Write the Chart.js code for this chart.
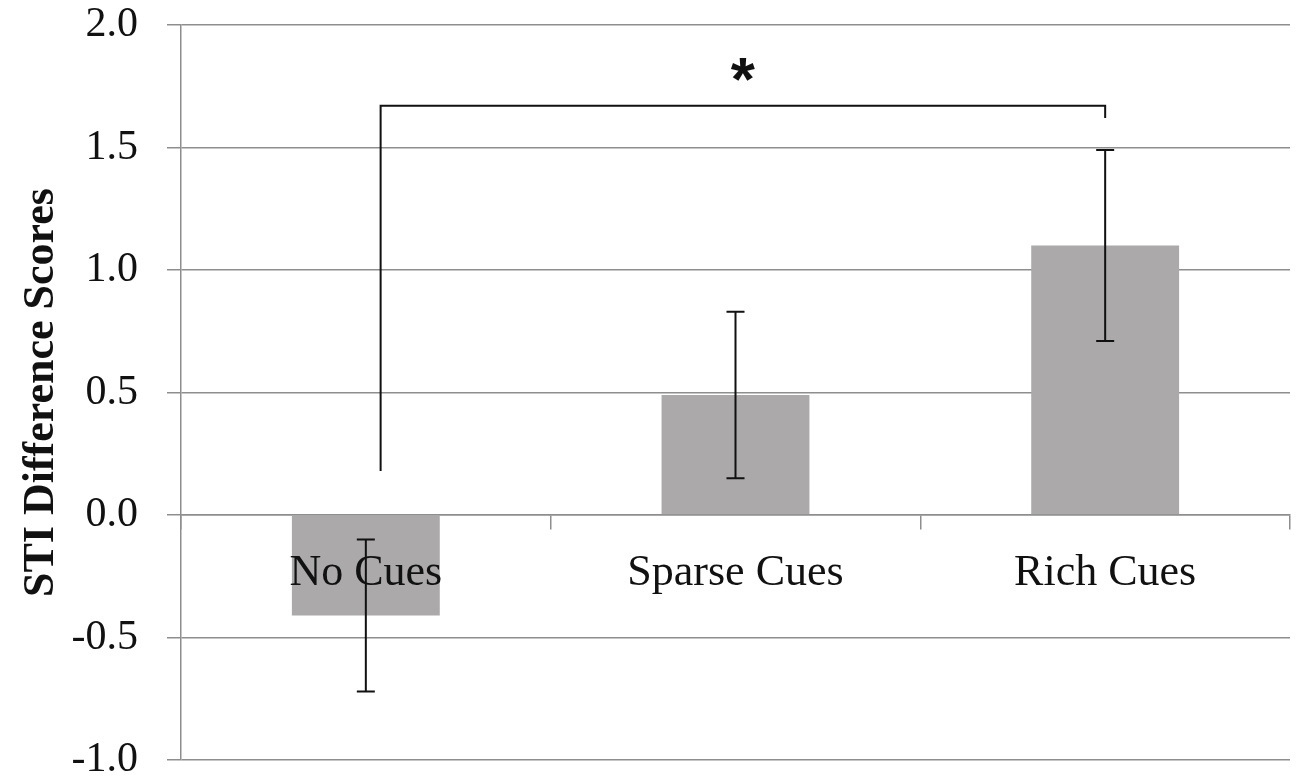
<!DOCTYPE html>
<html>
<head>
<meta charset="utf-8">
<script src="https://cdn.jsdelivr.net/npm/chart.js@4/dist/chart.umd.min.js"></script>
<style>
  html, body { margin: 0; padding: 0; background: #ffffff; }
  #wrap { width: 1300px; height: 783px; }
</style>
</head>
<body>
<div id="wrap"><canvas id="c" width="1300" height="783"></canvas></div>
<script>
// Conditions and mean STI difference scores
const categories = ['No Cues', 'Sparse Cues', 'Rich Cues'];
const means = [-0.41, 0.49, 1.10];
// Error bar ends (lower, upper)
const errLow = [-0.72, 0.15, 0.71];
const errHigh = [-0.10, 0.83, 1.49];
// Y axis ticks
const yTicks = [-1.0, -0.5, 0.0, 0.5, 1.0, 1.5, 2.0];

// Significance bracket: category positions of the legs, bar level, leg ends
const bracketX = [0.04, 2.0];
const bracketTop = 1.67;
const bracketLegEnds = [0.18, 1.62];
const sigLabel = '*';
const sigPos = [1.02, 1.82];

const GRID = '#8e8e8e';
const SERIF = '"Liberation Serif", "Times New Roman", serif';

const errorBars = {
  id: 'errorBars',
  afterDraw(chart) {
    const ctx = chart.ctx;
    const y = chart.scales.y;
    const meta = chart.getDatasetMeta(0);
    ctx.save();
    ctx.strokeStyle = '#111111';
    ctx.lineWidth = 2;
    meta.data.forEach((bar, i) => {
      const x = bar.x;
      const yl = y.getPixelForValue(errLow[i]);
      const yh = y.getPixelForValue(errHigh[i]);
      const cap = 9;
      ctx.beginPath();
      ctx.moveTo(x, yl); ctx.lineTo(x, yh);
      ctx.moveTo(x - cap, yl); ctx.lineTo(x + cap, yl);
      ctx.moveTo(x - cap, yh); ctx.lineTo(x + cap, yh);
      ctx.stroke();
    });
    ctx.restore();
  }
};

const significance = {
  id: 'significance',
  afterDraw(chart) {
    const ctx = chart.ctx;
    const xs = chart.scales.x, ys = chart.scales.y;
    const x0 = xs.getPixelForValue(bracketX[0]);
    const x1 = xs.getPixelForValue(bracketX[1]);
    const yt = ys.getPixelForValue(bracketTop);
    ctx.save();
    ctx.strokeStyle = '#111111';
    ctx.lineWidth = 2;
    ctx.lineJoin = 'miter';
    ctx.beginPath();
    ctx.moveTo(x0, ys.getPixelForValue(bracketLegEnds[0]));
    ctx.lineTo(x0, yt);
    ctx.lineTo(x1, yt);
    ctx.lineTo(x1, ys.getPixelForValue(bracketLegEnds[1]));
    ctx.stroke();

    ctx.fillStyle = '#111111';
    ctx.font = 'bold 62px "Liberation Sans", Arial, sans-serif';
    ctx.textAlign = 'center';
    ctx.textBaseline = 'alphabetic';
    const m = ctx.measureText(sigLabel);
    const cx = xs.getPixelForValue(sigPos[0]);
    const cy = ys.getPixelForValue(sigPos[1]);
    const off = (m.actualBoundingBoxAscent - m.actualBoundingBoxDescent) / 2;
    ctx.fillText(sigLabel, cx, cy + off);
    ctx.restore();
  }
};

new Chart(document.getElementById('c'), {
  type: 'bar',
  data: {
    labels: categories,
    datasets: [{
      data: means,
      backgroundColor: '#aba9a9',
      borderWidth: 0,
      categoryPercentage: 1.0,
      barPercentage: 0.4
    }]
  },
  options: {
    responsive: false,
    animation: false,
    devicePixelRatio: 1,
    layout: { padding: { top: 25, bottom: 23, left: 0, right: 10 } },
    plugins: {
      legend: { display: false },
      tooltip: { enabled: false }
    },
    scales: {
      x: {
        position: { y: 0 },
        offset: true,
        grid: {
          offset: true,
          drawOnChartArea: false,
          drawTicks: true,
          tickLength: 14,
          color: GRID,
          lineWidth: 1.5
        },
        border: { display: true, color: GRID, width: 1.5 },
        ticks: {
          z: 1,
          color: '#111111',
          padding: 18,
          maxRotation: 0,
          font: { family: SERIF, size: 44 }
        }
      },
      y: {
        min: -1,
        max: 2,
        afterBuildTicks(scale) {
          scale.ticks = yTicks.map(v => ({ value: v }));
        },
        afterFit(scale) {
          scale.width = 181;
          scale.paddingTop = 0;
          scale.paddingBottom = 0;
        },
        grid: {
          color: GRID,
          lineWidth: 1.5,
          drawTicks: true,
          tickLength: 14
        },
        border: { display: true, color: GRID, width: 1.5 },
        ticks: {
          color: '#111111',
          padding: 29,
          font: { family: SERIF, size: 42 },
          callback: v => Number(v).toFixed(1)
        },
        title: {
          display: true,
          text: 'STI Difference Scores',
          color: '#111111',
          padding: { top: 15, bottom: 0 },
          font: { family: SERIF, size: 44, weight: 'bold' }
        }
      }
    }
  },
  plugins: [errorBars, significance]
});
</script>
</body>
</html>
